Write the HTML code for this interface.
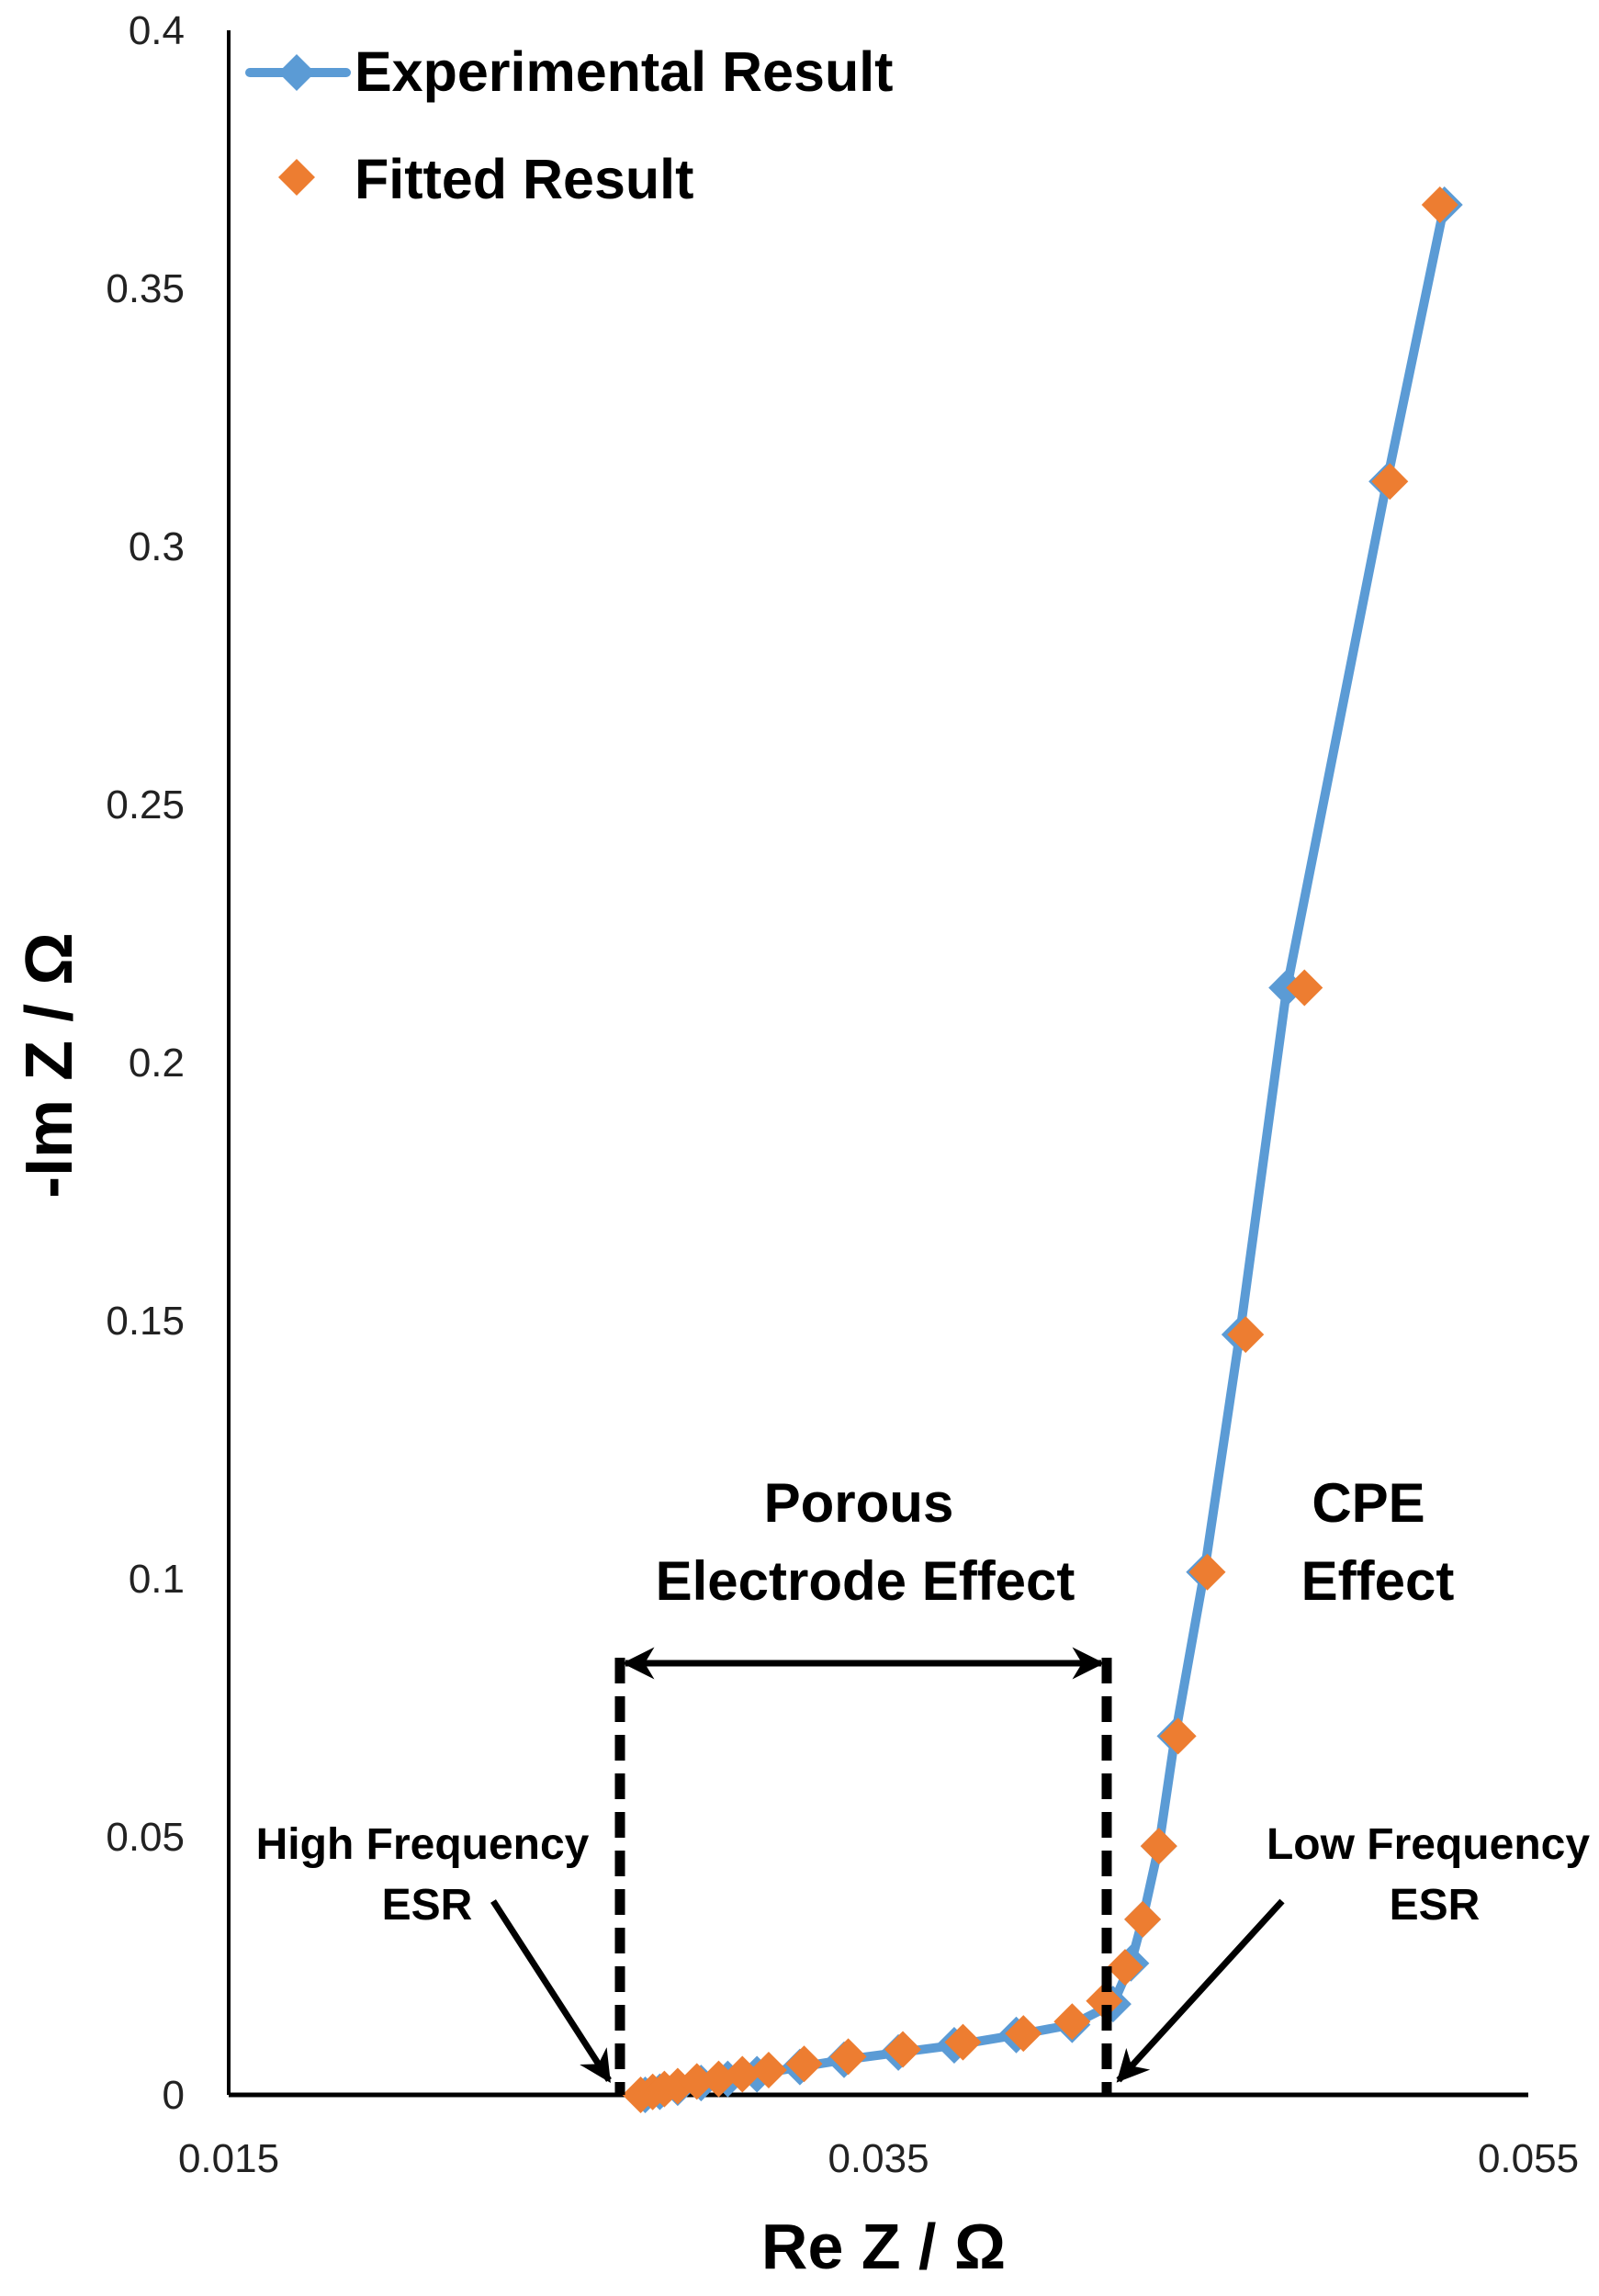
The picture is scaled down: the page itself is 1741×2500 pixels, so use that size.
<!DOCTYPE html>
<html><head><meta charset="utf-8"><style>
html,body{margin:0;padding:0;background:#fff;width:1741px;height:2500px;overflow:hidden}
svg{display:block}
text{font-family:"Liberation Sans",sans-serif}
</style></head><body>
<svg id="chart" width="1741" height="2500" viewBox="0 0 1741 2500" xmlns="http://www.w3.org/2000/svg">
<defs>
<marker id="ah" viewBox="0 0 10 10" refX="9" refY="5" markerWidth="5" markerHeight="5" orient="auto-start-reverse" markerUnits="strokeWidth">
<path d="M0,0 L10,5 L0,10 L3,5 z" fill="#000"/></marker>
</defs>
<g id="axes"></g>
<g id="series"></g>
<g id="annot">
<line x1="675" y1="1805" x2="675" y2="2281" stroke="#000" stroke-width="11" stroke-dasharray="28,14"/>
<line x1="1205" y1="1805" x2="1205" y2="2281" stroke="#000" stroke-width="11" stroke-dasharray="28,14"/>
<line x1="681" y1="1811" x2="1199" y2="1811" stroke="#000" stroke-width="7" marker-start="url(#ah)" marker-end="url(#ah)"/>
<line x1="537" y1="2070" x2="663" y2="2265" stroke="#000" stroke-width="7" marker-end="url(#ah)"/>
<line x1="1396" y1="2070" x2="1218" y2="2265" stroke="#000" stroke-width="7" marker-end="url(#ah)"/>
<text x="935" y="1657" font-size="60" font-weight="bold" text-anchor="middle">Porous</text>
<text x="942" y="1742" font-size="60" font-weight="bold" text-anchor="middle">Electrode Effect</text>
<text x="1490" y="1657" font-size="60" font-weight="bold" text-anchor="middle">CPE</text>
<text x="1500" y="1742" font-size="60" font-weight="bold" text-anchor="middle">Effect</text>
<text x="460" y="2024" font-size="48" font-weight="bold" text-anchor="middle">High Frequency</text>
<text x="465" y="2090" font-size="48" font-weight="bold" text-anchor="middle">ESR</text>
<text x="1555" y="2024" font-size="48" font-weight="bold" text-anchor="middle">Low Frequency</text>
<text x="1562" y="2090" font-size="48" font-weight="bold" text-anchor="middle">ESR</text>
</g>
<g id="legend">
<g>
<line x1="272" y1="79" x2="377" y2="79" stroke="#5b9bd5" stroke-width="10" stroke-linecap="round"/>
<path d="M323,59 L343,79 L323,99 L303,79 z" fill="#5b9bd5"/>
<text x="386" y="99" font-size="61" font-weight="bold">Experimental Result</text>
</g>
<g>
<path d="M323,173 L343,193 L323,213 L303,193 z" fill="#ed7d31"/>
<text x="386" y="216" font-size="61" font-weight="bold">Fitted Result</text>
</g>
</g>
</svg>
<script>
const expRe=[0.02782,0.02827,0.02882,0.02954,0.03036,0.03126,0.03258,0.03394,0.03561,0.03733,0.03924,0.04096,0.04222,0.04277,0.04313,0.04363,0.04413,0.04503,0.04612,0.04757,0.05065,0.05242];
const expIm=[0.0,0.0006,0.0014,0.0023,0.0031,0.0040,0.0054,0.0068,0.0082,0.0096,0.0116,0.0136,0.0176,0.0255,0.0340,0.0482,0.0695,0.1013,0.1473,0.2145,0.3126,0.3662];
const fitRe=[0.02768,0.02805,0.02841,0.02882,0.02941,0.03008,0.03081,0.03162,0.03271,0.03407,0.03575,0.03760,0.03946,0.04096,0.04195,0.04259,0.04313,0.04363,0.04422,0.04512,0.04630,0.04811,0.05074,0.05228];
const fitIm=[0.0,0.00057,0.00113,0.0017,0.0026,0.0031,0.0040,0.0048,0.0060,0.0074,0.0088,0.0102,0.0119,0.0142,0.0182,0.0247,0.0340,0.0482,0.0695,0.1013,0.1473,0.2145,0.3126,0.3662];
const xTicks=[0.015,0.035,0.055];
const xTickLabels=["0.015","0.035","0.055"];
const yTicks=[0,0.05,0.1,0.15,0.2,0.25,0.3,0.35,0.4];
const yTickLabels=["0","0.05","0.1","0.15","0.2","0.25","0.3","0.35","0.4"];

const X0=249,X1=1664,Y0=2281,Y1=33;
const xs=v=>X0+(v-0.015)/0.04*(X1-X0);
const ys=v=>Y0-(v/0.4)*(Y0-Y1);
const NS="http://www.w3.org/2000/svg";
function mk(tag,attrs,parent){const e=document.createElementNS(NS,tag);for(const k in attrs)e.setAttribute(k,attrs[k]);parent.appendChild(e);return e;}
const axes=document.getElementById('axes');
let el=mk('line',{x1:X0,y1:Y1,x2:X0,y2:Y0,stroke:'#000','stroke-width':4},axes);


el=mk('line',{x1:X0,y1:Y0,x2:X1,y2:Y0,stroke:'#000','stroke-width':5},axes);


yTicks.forEach((v,i)=>{const t=mk('text',{x:201,y:ys(v)+15,'font-size':44,'text-anchor':'end',fill:'#222'},axes);t.textContent=yTickLabels[i];

});
xTicks.forEach((v,i)=>{const t=mk('text',{x:xs(v),y:2365,'font-size':44,'text-anchor':'middle',fill:'#222'},axes);t.textContent=xTickLabels[i];

});
el=mk('text',{x:962,y:2470,'font-size':70,'font-weight':'bold','text-anchor':'middle'},axes);el.textContent='Re Z / Ω';


el=mk('text',{x:0,y:0,'font-size':72,'font-weight':'bold','text-anchor':'middle',transform:'translate(78,1160) rotate(-90)'},axes);el.textContent='-Im Z / Ω';



const ser=document.getElementById('series');
const pts=expRe.map((v,i)=>xs(v)+','+ys(expIm[i])).join(' ');
el=mk('polyline',{points:pts,fill:'none',stroke:'#5b9bd5','stroke-width':10,'stroke-linejoin':'round'},ser);


const d=20;
expRe.forEach((v,i)=>{const x=xs(v),y=ys(expIm[i]);const p=mk('path',{d:`M${x},${y-d} L${x+d},${y} L${x},${y+d} L${x-d},${y} z`,fill:'#5b9bd5'},ser);

});
fitRe.forEach((v,i)=>{const x=xs(v),y=ys(fitIm[i]);const p=mk('path',{d:`M${x},${y-d} L${x+d},${y} L${x},${y+d} L${x-d},${y} z`,fill:'#ed7d31'},ser);

});
</script>
</body></html>
